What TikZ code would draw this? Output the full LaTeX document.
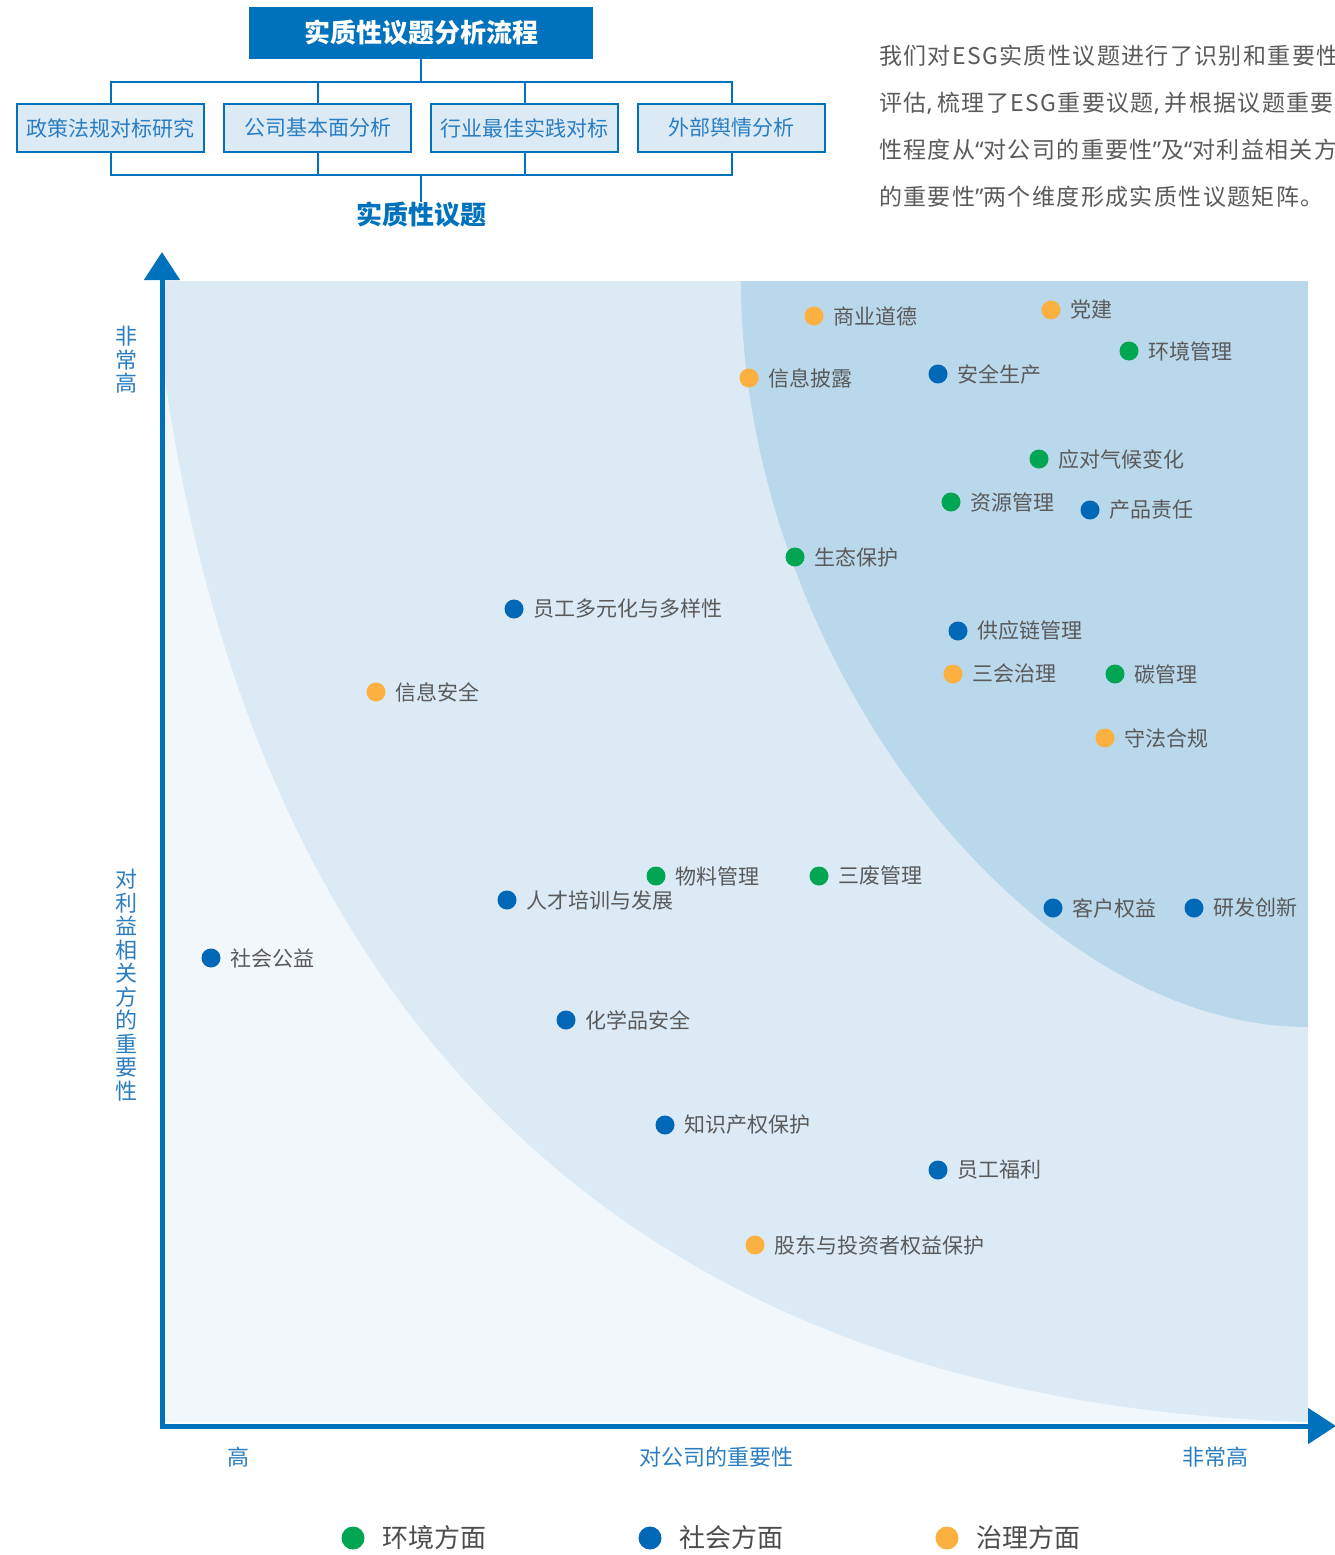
\documentclass[tikz,border=0pt]{standalone}
\usepackage{fontspec}
\setmainfont{Noto Sans CJK SC}
\newfontfamily\quotefont{Noto Sans}
\usetikzlibrary{positioning, arrows.meta}

\definecolor{mainblue}{HTML}{0071BC}
\definecolor{axisblue}{HTML}{2A7DC1}
\definecolor{boxfill}{HTML}{DCEAF6}
\definecolor{zonelow}{HTML}{F2F7FB}
\definecolor{zonemid}{HTML}{DCEAF5}
\definecolor{zonehigh}{HTML}{B9D8EB}
\definecolor{envgreen}{HTML}{00A651}
\definecolor{socblue}{HTML}{0068B7}
\definecolor{govorange}{HTML}{FBB040}
\definecolor{textgray}{HTML}{5A5A5A}

\newcommand{\openq}{{\quotefont “}}
\newcommand{\closeq}{{\quotefont ”}}
\newcommand{\narrowcomma}{{\quotefont ,}\hspace{0.2em}}

\begin{document}
\begin{tikzpicture}[x=1pt, y=-1pt,
    titlebox/.style={fill=mainblue, text=white, font=\fontsize{26}{30}\selectfont\bfseries, minimum width=344pt, minimum height=52pt, inner sep=0pt},
    stepbox/.style={draw=mainblue, line width=2pt, fill=boxfill, text=axisblue, font=\fontsize{21}{25}\selectfont, minimum width=187pt, minimum height=48pt, inner sep=0pt},
    link/.style={draw=mainblue, line width=2pt},
    axis/.style={draw=mainblue, line width=5pt, -{Triangle[length=28pt, width=35pt]}},
    axislabel/.style={text=axisblue, font=\fontsize{22}{23.5}\selectfont, align=center, inner sep=0pt},
    topic/.style={text=textgray, font=\fontsize{21}{25}\selectfont, inner sep=0pt, label distance=10pt},
    issue/.style={circle, inner sep=0pt, minimum size=19pt},
    envdot/.style={issue, fill=envgreen, label={[topic]right:#1}},
    socdot/.style={issue, fill=socblue, label={[topic]right:#1}},
    govdot/.style={issue, fill=govorange, label={[topic]right:#1}},
    keytext/.style={text=textgray!85!black, font=\fontsize{26}{30}\selectfont, inner sep=0pt, label distance=18pt},
    keydot/.style={circle, inner sep=0pt, minimum size=23pt}]

    \useasboundingbox (0,0) rectangle (1334,1555);

    % Flow
    \node[titlebox] (flow) at (421,33) {实质性议题分析流程};
    \node[stepbox] (policy) at (110.5,128) {政策法规对标研究};
    \node[stepbox] (company) [right=207pt of policy.center, anchor=center] {公司基本面分析};
    \node[stepbox] (practice) [right=207pt of company.center, anchor=center] {行业最佳实践对标};
    \node[stepbox] (media) [right=207pt of practice.center, anchor=center] {外部舆情分析};
    \node[text=mainblue, font=\fontsize{26}{30}\selectfont\bfseries, inner sep=0pt] (result) at (421,215) {实质性议题};

    \coordinate (bustop) at (421,82);
    \coordinate (busbottom) at (421,175);
    \draw[link] (flow.south) -- (bustop);
    \draw[link] (policy.north) |- (bustop) -| (media.north);
    \draw[link] (company.north) -- (company.north |- bustop);
    \draw[link] (practice.north) -- (practice.north |- bustop);
    \draw[link] (policy.south) |- (busbottom) -| (media.south);
    \draw[link] (company.south) -- (company.south |- busbottom);
    \draw[link] (practice.south) -- (practice.south |- busbottom);
    \draw[link] (busbottom) -- (result.north);

    % Text
    \node[text=textgray, font=\fontsize{23}{47}\selectfont\addfontfeatures{LetterSpace=6}, align=left, anchor=north west, inner sep=0pt] (note) at (879,45)
        {我们对ESG实质性议题进行了识别和重要性\\评估\narrowcomma 梳理了ESG重要议题\narrowcomma 并根据议题重要\\性程度从\openq 对公司的重要性\closeq 及\openq 对利益相关方\\的重要性\closeq 两个维度形成实质性议题矩阵。};

    % Zones
    \fill[zonemid] (165,281) rectangle (1308,1422);
    \fill[zonelow] (165,380) .. controls (255,1000) and (610,1402) .. (1308,1422) -- (165,1422) -- cycle;
    \fill[zonehigh] (741,281) .. controls (741,654) and (1025,1027) .. (1308,1027) -- (1308,281) -- cycle;

    % Axes
    \coordinate (origin) at (162,1426);
    \coordinate (ytip) at (162,252);
    \coordinate (xtip) at (1336,1426);
    \draw[axis, line cap=rect] (origin) -- (ytip);
    \draw[axis, line cap=rect] (origin) -- (xtip);

    \node[axislabel] (yhigh) at (126,360) {非\\常\\高};
    \node[axislabel] (yname) at (126,985) {对\\利\\益\\相\\关\\方\\的\\重\\要\\性};
    \node[axislabel] (xlow) at (238,1457) {高};
    \node[axislabel] (xname) at (716,1457) {对公司的重要性};
    \node[axislabel] (xhigh) at (1215,1457) {非常高};

    % Issues
    \node[govdot=商业道德] (ethics) at (814,316) {};
    \node[govdot=党建] (party) at (1051,310) {};
    \node[envdot=环境管理] (envmgmt) at (1129,351) {};
    \node[govdot=信息披露] (disclosure) at (749,378) {};
    \node[socdot=安全生产] (safety) at (938,374) {};
    \node[envdot=应对气候变化] (climate) at (1039,459) {};
    \node[envdot=资源管理] (resource) at (951,502) {};
    \node[socdot=产品责任] (product) at (1090,510) {};
    \node[envdot=生态保护] (ecology) at (795,557) {};
    \node[socdot=员工多元化与多样性] (diversity) at (514,609) {};
    \node[socdot=供应链管理] (supply) at (958,631) {};
    \node[govdot=三会治理] (board) at (953,674) {};
    \node[envdot=碳管理] (carbon) at (1115,674) {};
    \node[govdot=守法合规] (compliance) at (1105,738) {};
    \node[govdot=信息安全] (infosec) at (376,692) {};
    \node[envdot=物料管理] (material) at (656,876) {};
    \node[envdot=三废管理] (waste) at (819,876) {};
    \node[socdot=人才培训与发展] (training) at (507,900) {};
    \node[socdot=客户权益] (customer) at (1053,908) {};
    \node[socdot=研发创新] (rnd) at (1194,908) {};
    \node[socdot=社会公益] (charity) at (211,958) {};
    \node[socdot=化学品安全] (chemical) at (566,1020) {};
    \node[socdot=知识产权保护] (ip) at (665,1125) {};
    \node[socdot=员工福利] (welfare) at (938,1170) {};
    \node[govdot=股东与投资者权益保护] (investor) at (755,1245) {};

    % Legend
    \node[keydot, fill=envgreen, label={[keytext]right:环境方面}] (keyenv) at (353,1538) {};
    \node[keydot, fill=socblue, label={[keytext]right:社会方面}] (keysoc) at (650,1538) {};
    \node[keydot, fill=govorange, label={[keytext]right:治理方面}] (keygov) at (947,1538) {};
\end{tikzpicture}
\end{document}
